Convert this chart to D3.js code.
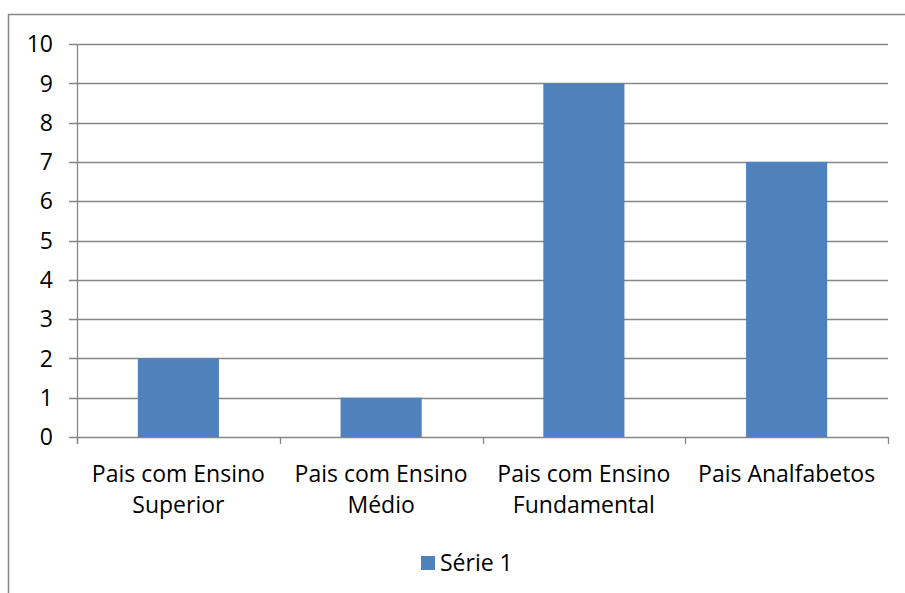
<!DOCTYPE html>
<html><head><meta charset="utf-8">
<script src="https://cdn.jsdelivr.net/npm/d3@7"></script>
<style>
body{margin:0;background:#fff;}
svg text{font-family:"Open Sans",Lato,sans-serif;fill:#000;}
</style></head>
<body><svg id="c" width="905" height="593"></svg>
<script>
const categories = [["Pais com Ensino","Superior"],["Pais com Ensino","Médio"],["Pais com Ensino","Fundamental"],["Pais Analfabetos"]];
const values = [2,1,9,7];
const yTicks = [0,1,2,3,4,5,6,7,8,9,10];
const seriesName = "Série 1";

const svg = d3.select("#c");
const gray = "#868686";
svg.append("rect").attr("x",8.5).attr("y",14.5).attr("width",1000).attr("height",1000)
  .attr("fill","none").attr("stroke",gray).attr("stroke-width",1.5);

const L=77, R=888, T=44, B=437;
const x = d3.scaleBand().domain(d3.range(categories.length)).range([L,R]).paddingInner(0).paddingOuter(0);
const y = d3.scaleLinear().domain([0,10]).range([B,T]);

svg.append("g").selectAll("line").data(yTicks).join("line")
  .attr("x1",69).attr("x2",R).attr("y1",d=>Math.round(y(d))+0.5).attr("y2",d=>Math.round(y(d))+0.5)
  .attr("stroke",gray).attr("stroke-width",1.3);
svg.append("line").attr("x1",L+0.5).attr("x2",L+0.5).attr("y1",T).attr("y2",B+7).attr("stroke",gray).attr("stroke-width",1.3);
svg.append("g").selectAll("line").data(d3.range(categories.length+1)).join("line")
  .attr("x1",d=>Math.round(L + d*x.bandwidth())+0.5).attr("x2",d=>Math.round(L + d*x.bandwidth())+0.5)
  .attr("y1",B).attr("y2",B+7).attr("stroke",gray).attr("stroke-width",1.3);

const bw = x.bandwidth()*0.4;
svg.append("g").selectAll("rect").data(values).join("rect")
  .attr("x",(d,i)=>x(i)+(x.bandwidth()-bw)/2).attr("width",bw)
  .attr("y",d=>y(d)).attr("height",d=>B-y(d)).attr("fill","#4F81BD");

svg.append("g").selectAll("text").data(yTicks).join("text")
  .attr("x",53).attr("y",d=>y(d)).attr("dy","0.36em").attr("text-anchor","end")
  .attr("font-size",23).text(d=>d);

const xl = svg.append("g").selectAll("text").data(categories).join("text")
  .attr("text-anchor","middle").attr("font-size",23)
  .attr("transform",(d,i)=>`translate(${x(i)+x.bandwidth()/2},${482})`);
xl.selectAll("tspan").data(d=>d).join("tspan").attr("x",0).attr("dy",(d,j)=>j?31:0).text(d=>d);

svg.append("rect").attr("x",421).attr("y",556).attr("width",14).attr("height",14).attr("fill","#4F81BD");
svg.append("text").attr("x",440).attr("y",563).attr("dy","0.36em").attr("font-size",23).text(seriesName);
</script></body></html>
